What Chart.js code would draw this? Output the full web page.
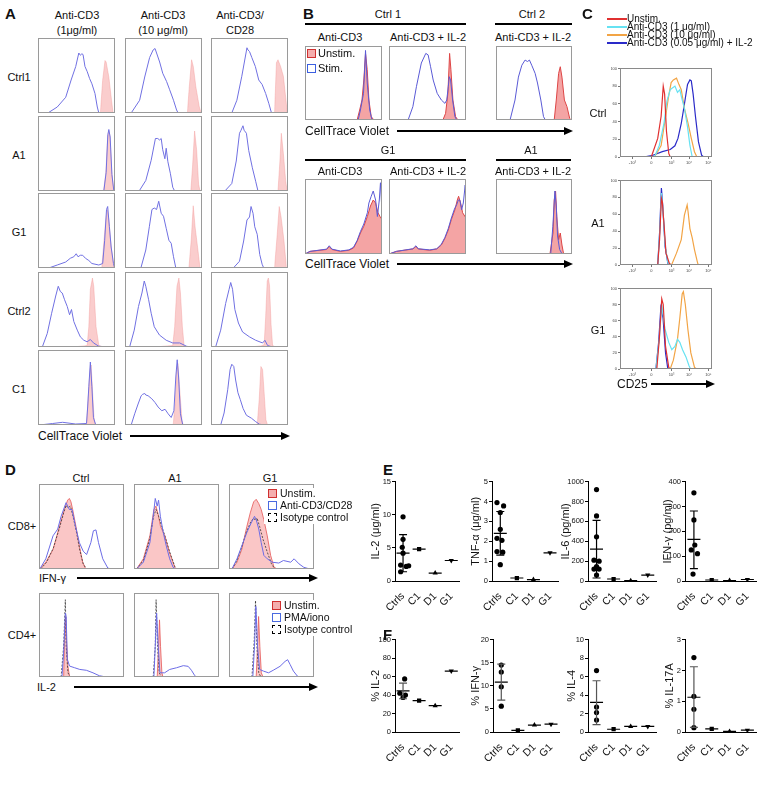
<!DOCTYPE html>
<html>
<head>
<meta charset="utf-8">
<script src="https://cdn.jsdelivr.net/npm/chart.js@4.4.0/dist/chart.umd.min.js"></script>
<style>
body{margin:0;background:#fff}
#fig{position:relative;width:766px;height:785px;overflow:hidden;font-family:'Liberation Sans',Arial,Helvetica,sans-serif;color:#111;background:#fff}
.t{position:absolute;white-space:nowrap;line-height:1}
.c{transform:translate(-50%,-50%)}
.l{transform:translateY(-50%)}
.b{font-weight:bold}
.hl{position:absolute;height:1.5px;background:#000}
.arr{position:absolute;height:1.5px;background:#000}
.arr::after{content:'';position:absolute;right:-3px;top:-3.5px;border-left:9px solid #000;border-top:4.25px solid transparent;border-bottom:4.25px solid transparent}
.sq{position:absolute;width:7px;height:7px;border:1.5px solid}
.leg{position:absolute;background:#fff}
canvas{position:absolute}
</style>
</head>
<body>
<div id="fig"></div>
<script>
// ---- Panel A: CellTrace Violet histograms (x = 0-100 across box, y = % of box height)
const A_ctrl1_lo_u = [[81,0],[84,44],[87,70],[88.5,68],[92,48],[95.5,17],[97.5,0]];
const A_ctrl1_lo_s = [[12.8,0],[25,8],[36,21],[43,44],[49,62],[53,80],[55,77],[57,79],[58.5,78],[61,62],[64,55],[67,46],[70,39],[74,26],[77,8],[79,0]];
const A_ctrl1_hi_u = [[81,0],[83.5,35],[86.5,71],[88.7,62],[92,35],[96.5,8],[99,0]];
const A_ctrl1_hi_s = [[8,0],[19,17],[25.6,48],[32,74],[36.5,84],[39,86],[41,80],[45,68],[49,53],[54,42],[58,31],[63,17],[67,4],[69,0]];
const A_ctrl1_28_u = [[82.5,0],[85,67],[87,71],[90.4,62],[94,49],[97.4,17],[99,0]];
const A_ctrl1_28_s = [[27,0],[33.6,17],[40,49],[46.7,87],[48,84],[50,82],[53,74],[57.6,62],[62,44],[66.4,38],[71,26],[75,13],[78.6,0]];
const A_a1_lo_u = [[85,0],[88,23],[90.5,73],[92,80],[93.5,73],[96,23],[98.5,0]];
const A_a1_lo_s = [[85.5,0],[88.5,25],[90.7,75],[92,82],[93.7,72],[96,22],[98.5,0]];
const A_a1_hi_u = [[85.5,0],[87.7,32],[90.4,80],[93,55],[95.6,9],[97.4,0]];
const A_a1_hi_s = [[18.4,0],[27,14],[34,41],[39.5,70],[42.5,70],[45,68],[47,70],[49,55],[51.8,43],[53.5,57],[55.7,39],[59,23],[62,5],[64.5,0]];
const A_a1_28_u = [[87,0],[89.5,40],[91.3,77],[94,50],[97,13],[99,0]];
const A_a1_28_s = [[18,0],[27,10],[32.8,40],[37,77],[39,81],[41.5,87],[43,81],[46,77],[49,54],[53.7,31],[58,13],[61,0]];
const A_g1_lo_u = [[82.8,0],[85,28],[88,64],[90,78],[92,64],[95,28],[98.7,0]];
const A_g1_lo_s = [[14,0],[25,4],[36,8],[42,13],[46.5,15],[49.6,19],[52,15],[55,17],[58,17],[61.6,13],[66,10],[70,6],[79,4],[84,6],[86.6,37],[89,78],[90.5,82],[92.7,55],[95,28],[98,6],[99.5,0]];
const A_g1_hi_u = [[83,0],[86,37],[88.6,83],[91,55],[94.7,24],[97.4,0]];
const A_g1_hi_s = [[20.6,0],[27,24],[31.6,55],[35,78],[38,80],[41,78],[43.8,89],[47,73],[50,69],[53.5,53],[57,37],[60,33],[63,15],[66,0]];
const A_g1_28_u = [[82.5,0],[86,45],[88.6,82],[91,68],[94.8,36],[98,0]];
const A_g1_28_s = [[29,0],[37,9],[42.4,36],[46.7,64],[50,68],[52,82],[54.6,73],[56.8,55],[60,45],[63.3,18],[66.4,5],[68.5,0]];
const A_ctrl2_lo_u = [[45,0],[60,1.5],[63.8,2],[66,27],[68,77],[70.7,92],[72.4,81],[75.4,27],[79,2],[85,0]];
const A_ctrl2_lo_s = [[5.6,0],[12,18],[17.7,45],[23,68],[26.3,81],[29,74],[31.5,72],[34.5,63],[38,54],[41,43],[43.5,50],[46.5,34],[51,22.5],[55,13.5],[59.5,9],[63.8,7],[68,10],[72,5.5],[79,1],[90,0]];
const A_ctrl2_hi_u = [[40,0],[55,1.5],[62,2],[64.5,27],[67.5,81],[70,92],[72,72],[74.5,27],[76.8,1],[80,0]];
const A_ctrl2_hi_s = [[6,0],[12,22.5],[17.5,54],[22,72],[25,88],[27,81],[30.7,63],[34,45],[38,27],[44.7,16],[53.5,9],[62,5.4],[71,5.4],[80,1],[85,0]];
const A_ctrl2_28_u = [[50,0],[65,1.5],[69,3],[71,40],[73,88],[74.5,92],[76,82],[78,30],[80,2],[84,0]];
const A_ctrl2_28_s = [[6,0],[12.6,22.5],[19,58],[23.5,77],[25.6,86],[28,77],[31,50],[35.6,32],[41,20],[50,13.5],[58,9],[67,5.4],[70,9],[73.5,2],[80,0]];
const A_c1_lo_u = [[63,0],[65,33],[67.5,73],[69,80],[71,42],[73,6],[75,0]];
const A_c1_lo_s = [[2,0],[19,2],[32,3.6],[49,1.3],[63,2],[64.5,24],[66,51],[68,84],[70,51],[72,10],[75,0]];
const A_c1_hi_u = [[62.6,0],[65,28],[67,73],[68.7,82],[70.8,51],[74,6],[75.6,0]];
const A_c1_hi_s = [[8,0],[12.6,15],[17,28],[21,39],[23,41],[25.7,42],[27,40],[30,39],[34.8,35],[39,30],[43,24],[47.8,19],[52,21],[56,15],[60,10],[63.5,19],[66,64],[67.8,87],[69.6,64],[72,15],[75,0]];
const A_c1_28_u = [[60,0],[62.6,34],[64.8,78],[67,74],[69,43],[71.3,7],[73.5,0]];
const A_c1_28_s = [[12.6,0],[17,16],[21.7,47],[24.8,74],[27,81],[29.6,78],[32,60],[35,43],[38,34],[41.7,22],[46,13],[52.6,9],[58,4.5],[63,1],[70,0]];

// ---- Panel B
const B_ctrl1_cd3_u = [[67.7,0],[71,13.5],[74,27],[76.4,54],[78.6,90],[80.8,68],[83,27],[86,4.5],[89.5,0]];
const B_ctrl1_cd3_s = [[69,0],[72,13.5],[76,36],[78.6,94],[80.8,50],[84,13.5],[87,0]];
const B_ctrl1_il2_u = [[70,0],[73.5,9],[76.5,36],[78.7,90],[80.4,68],[83,27],[86.5,4.5],[89.5,0]];
const B_ctrl1_il2_s = [[24.8,0],[31,18],[35.6,45],[42,77],[47.8,90],[50.8,88],[54,72],[57.4,54],[62.6,36],[68,27],[72.6,22.5],[75,27],[77,45],[78.3,58.5],[80,54],[82.6,27],[85.6,4.5],[88,0]];
const B_ctrl2_il2_u = [[76.6,0],[79.3,27],[82.4,63],[84.6,72],[86.8,58],[90,27],[93.4,18],[97,2],[99,0]];
const B_ctrl2_il2_s = [[18.5,0],[25,27],[29.5,58],[34,74],[38.3,81],[41.4,79],[44,81],[47,74],[51.5,63],[54.6,50],[59,27],[62.5,4.5],[65,0]];
const B_g1_cd3_u = [[0,0],[6.5,3.5],[28,6],[31.5,10],[35,6],[46,3.5],[57,5],[63,8],[67.7,17],[72,28],[76.4,37],[81,50],[85,64],[88.6,72],[91.7,68],[94.8,55],[97.4,50],[100,46]];
const B_g1_cd3_s = [[0,0],[6.5,3.5],[28,6.5],[31.5,11],[35,6.5],[46,4],[57,5.5],[63,9],[67.7,18],[72,30],[76.4,40],[81,55],[83,68],[86,77],[88.6,84],[91.7,72],[94,50],[96.5,72],[98,95],[99.6,64]];
const B_g1_il2_u = [[0,0],[9.6,3.5],[31,6.7],[35,10],[38,6.7],[53,5],[62,6.7],[68,12],[72.6,21],[77,32],[81,46],[85.6,59],[88.7,72],[90.4,77],[93,68],[95.6,55],[98.7,50],[100,48]];
const B_g1_il2_s = [[0,0],[9.6,3.5],[31,7],[35,11],[38,7],[53,5.5],[62,7],[68,13],[72.6,22],[77,34],[81,48],[85,60],[88,66],[90,72],[92,72],[94.3,59],[96.5,68],[99,92],[100,60]];
const B_a1_il2_u = [[71,0],[75,28],[76.6,72],[78.4,84],[80,50],[82.4,19],[84.6,28],[86.8,12],[89,0]];
const B_a1_il2_s = [[72,0],[74.8,37],[77.5,84],[79.3,64],[81,24],[83.7,6],[87,0]];

// ---- Panel C: CD25 (x = position across plot, y = % of max)
const cXTicks = [13.5, 34, 56, 75, 96];
const cXLabels = ['-10³', '0', '10³', '10⁴', '10⁵'];
const C_ctrl_unstim = [[34,0],[41,21],[44.7,46],[47,80],[48.5,71],[50.5,29],[53,4],[54.6,0]];
const C_ctrl_cd3lo = [[37.5,0],[42.7,13],[47.8,38],[51,63],[54.6,76],[57,78],[59.7,80],[62.5,73],[65,76],[67,67],[70,55],[73.4,34],[76,13],[78.5,0]];
const C_ctrl_cd3hi = [[37.5,0],[44.7,13],[49,42],[52.6,67],[55.6,84],[58,87],[61.4,89],[64,82],[66.6,76],[70,55],[74,38],[77.5,21],[80.9,6],[83.6,0]];
const C_ctrl_il2 = [[25.6,0],[35.8,2],[46,6],[54.6,8.4],[59.7,12.6],[63,21],[66.6,38],[69.3,55],[71.7,71],[73.4,82],[76,87],[77.5,86],[79.5,71],[82,46],[85.3,17],[88.7,2],[91,0]];
const C_a1_unstim = [[41,0],[43,30],[45,79],[46,75],[48.5,38],[50,14],[53.6,2],[55.6,0]];
const C_a1_cd3lo = [[41,0],[43.3,40],[45,85],[46.4,70],[49,24],[52,3],[54,0]];
const C_a1_cd3hi = [[56,0],[61.4,14],[66.6,30],[70,59],[73,71],[74,63],[76,43],[78.5,32],[81,18],[84,4],[85,0]];
const C_a1_il2 = [[41,0],[43,38],[45,91],[46.4,71],[49,22],[52,2],[54,0]];
const C_g1_unstim = [[40,0],[42.7,37],[45.4,87],[47,80],[49.5,28],[53,2],[54.6,0]];
const C_g1_cd3lo = [[39,0],[42.7,37],[45.4,80],[48.8,50],[53,33],[56.3,24],[59.7,28],[62.5,37],[65,33],[68,24],[71.7,15],[75,4],[76.8,0]];
const C_g1_cd3hi = [[54.6,0],[58,11],[62.5,37],[65,63],[67.6,93],[68.9,96],[71,80],[73.7,50],[77,20],[81,2],[83.6,0]];
const C_g1_il2 = [[39,0],[42,33],[44.4,76],[46.8,63],[49.5,20],[52,0]];

// ---- Panel D: IFN-γ (CD8+) and IL-2 (CD4+)
const D_cd8_ctrl_u = [[1,0],[8,8],[16.5,23],[24,50],[29.8,70],[33.7,81],[35.7,83],[37.6,79],[39.6,70],[43.5,50],[47.5,27],[51.4,8],[55,0]];
const D_cd8_ctrl_i = [[2,0],[9,8],[17,25],[24,48],[29,66],[32,75],[34,72],[37,74],[40,62],[44,44],[48,22],[52,6],[56,0]];
const D_cd8_ctrl_s = [[1,0],[8,12],[16.5,39],[22,47],[26,62],[31.8,78],[35.7,70],[38.8,70],[43,50],[47.5,31],[52,21],[56,17],[61,31],[64,45],[67,46],[70,31],[75,12],[81,1],[86,0]];
const D_cd8_a1_u = [[3,0],[11,12],[18.7,39],[23.4,70],[25.8,74],[28.5,64],[31.2,50],[36.3,39],[42,19],[48,2],[50,0]];
const D_cd8_a1_i = [[3,0],[11,10],[18.7,36],[23,62],[26,70],[29,62],[32,52],[36,40],[42,20],[48,3],[51,0]];
const D_cd8_a1_s = [[3,0],[11,8],[18.7,31],[22.6,62],[25,83],[27.3,74],[28.9,81],[31,62],[34.4,43],[38,27],[42,12],[46,2],[49,0]];
const D_cd8_g1_u = [[3.5,0],[9.4,8],[15,23],[21,50],[25,66],[29,79],[32,82],[35,77],[37.9,70],[41,58],[45,39],[49,16],[53,2],[54,0]];
const D_cd8_g1_i = [[3.5,0],[9.4,10],[15,26],[21,45],[26,56],[29,60],[31,57],[33,60],[36,50],[40,35],[45,20],[50,6],[54,0]];
const D_cd8_g1_s = [[3.5,0],[9.4,12],[15,27],[21,43],[26,54],[30,62],[32,58],[35,47],[37.9,31],[41,16],[45,12],[50.8,8],[58.6,7],[64,10],[72.6,8],[76.6,12],[82.4,6],[88,2],[95,0]];
const D_cd4_ctrl_u = [[29,0],[30,40],[31.4,72],[32.5,40],[34,13],[36,0]];
const D_cd4_ctrl_i = [[26,0],[29,36.5],[31,92],[32,36.5],[34,5],[37,0]];
const D_cd4_ctrl_s = [[27,0],[29,28.6],[31,76],[32,72],[33.3,21],[36,13],[42,11],[48,9],[55.7,8],[63.5,5],[71,1.5],[79,0]];
const D_cd4_a1_u = [[27.3,0],[28.9,36.5],[30,68],[31.2,36.5],[32.8,5],[34,0]];
const D_cd4_a1_i = [[22.6,0],[25,36.5],[26,92],[27.7,36.5],[29.7,5],[32.4,0]];
const D_cd4_a1_s = [[23.4,0],[25,36.5],[26.6,76],[28.5,36.5],[30.5,5],[36,5],[42,9],[50,11],[58,13.5],[63.7,12.7],[67.6,8],[71.5,1.6],[73.4,0]];
const D_cd4_g1_u = [[32,0],[33.6,36.5],[34.8,72],[36.3,36.5],[38,5],[40,0]];
const D_cd4_g1_i = [[27,0],[29.7,44],[31.2,91],[32.8,36.5],[35,5],[37.5,0]];
const D_cd4_g1_s = [[28,0],[30,36.5],[31.6,84],[33.6,36.5],[36,9],[40.6,7],[46.5,5],[52,8],[60,12.7],[66,18.6],[69,20.6],[72,14.7],[75.8,7],[80.5,1],[83.6,0]];

// ---- Panels E / F: dot plots (Ctrls points, then C1, D1, G1 single values)
const groups = ['Ctrls', 'C1', 'D1', 'G1'];
const eIl2 = [9.7, 6.3, 5.1, 4.2, 2.4, 2.2, 2.3, 1.4];
const eIl2Jit = [0, 0, -0.05, 0, -0.15, 0.2, 0.35, -0.15];
const eIl2Pts = [4.8, 1.2, 3.1];
const eIl2Sd = [4.2, 1.4, 7.0];        // mean, lower, upper
const eTnf = [3.95, 3.78, 3.45, 2.6, 2.15, 2.05, 1.48, 1.45, 0.82];
const eTnfJit = [-0.2, 0.2, 0, 0, -0.2, 0.1, -0.2, 0.15, 0];
const eTnfPts = [0.15, 0.07, 1.42];
const eTnfSd = [2.4, 1.3, 3.5];
const eIl6 = [921, 655, 445, 210, 200, 145, 120, 120, 60];
const eIl6Jit = [0, 0, 0, -0.15, 0.15, 0, -0.15, 0.15, 0];
const eIl6Pts = [20, 3, 60];
const eIl6Sd = [320, 30, 610];
const eIfn = [355, 246, 145, 125, 110, 28];
const eIfnJit = [0, 0, 0.05, -0.15, 0.2, -0.05];
const eIfnPts = [4, 2, 6];
const eIfnSd = [168, 50, 282];
const fIl2 = [57.5, 42, 40, 37.5];
const fIl2Jit = [0.1, -0.2, 0.15, 0];
const fIl2Pts = [34, 28.5, 66];
const fIl2Sd = [44.5, 36, 53];
const fIfn = [14.5, 13, 9.8, 5.6];
const fIfnPts = [0.35, 1.5, 1.7];
const fIfnSd = [10.8, 6.9, 14.7];
const fIl4 = [6.65, 2.7, 2.1, 1.3];
const fIl4Pts = [0.3, 0.6, 0.6];
const fIl4Sd = [3.2, 0.8, 5.55];
const fIl17 = [2.42, 1.16, 0.74, 0.14];
const fIl17Pts = [0.1, 0.02, 0.06];
const fIl17Sd = [1.13, 0.15, 2.12];
const noJit = [0, 0, 0, 0];

const fig = document.getElementById('fig');
Chart.defaults.font.family = "'Liberation Sans', Arial, sans-serif";
Chart.defaults.color = '#111';
Chart.defaults.animation = false;

Chart.register({
  id: 'frame',
  afterDraw(chart, args, opts) {
    if (!opts || !opts.color) return;
    const {ctx, chartArea: a} = chart;
    ctx.save();
    ctx.strokeStyle = opts.color;
    ctx.lineWidth = 1;
    ctx.strokeRect(Math.round(a.left) + 0.5, Math.round(a.top) + 0.5, Math.round(a.right - a.left) - 1, Math.round(a.bottom - a.top) - 1);
    ctx.restore();
  }
});

Chart.register({
  id: 'errbars',
  afterDatasetsDraw(chart, args, opts) {
    if (!opts || !opts.sd) return;
    const {ctx, scales: {x, y}} = chart;
    const px = x.getPixelForValue(0);
    const p1 = y.getPixelForValue(opts.sd[1]);
    const p2 = y.getPixelForValue(opts.sd[2]);
    ctx.save();
    ctx.strokeStyle = opts.color;
    ctx.lineWidth = 1.2;
    ctx.beginPath();
    ctx.moveTo(px, p1); ctx.lineTo(px, p2);
    ctx.moveTo(px - 4, p1); ctx.lineTo(px + 4, p1);
    ctx.moveTo(px - 4, p2); ctx.lineTo(px + 4, p2);
    ctx.stroke();
    ctx.restore();
  }
});

function T(s, x, y, cls, size, extra) {
  const d = document.createElement('div');
  d.className = 't ' + (cls || 'c');
  d.style.cssText = 'left:' + x + 'px;top:' + y + 'px;font-size:' + (size || 11) + 'px;' + (extra || '');
  d.textContent = s;
  fig.appendChild(d);
}
function box(cls, x, y, w, extra) {
  const d = document.createElement('div');
  d.className = cls;
  d.style.cssText = 'left:' + x + 'px;top:' + y + 'px;width:' + w + 'px;' + (extra || '');
  fig.appendChild(d);
}
function addCanvas(x, y, w, h) {
  const c = document.createElement('canvas');
  c.width = w; c.height = h;
  c.style.cssText = 'left:' + x + 'px;top:' + y + 'px;width:' + w + 'px;height:' + h + 'px';
  fig.appendChild(c);
  return c;
}
const toXY = arr => arr.map(p => ({x: p[0], y: p[1]}));

const ST = {
  aU: {borderColor: 'rgba(240,140,140,0.6)', backgroundColor: 'rgba(247,172,172,0.6)', borderWidth: 0.6, fill: 'origin', order: 2},
  aS: {borderColor: '#7070e2', borderWidth: 1, fill: false, order: 0},
  bU: {borderColor: '#dd4545', backgroundColor: 'rgba(240,125,125,0.7)', borderWidth: 1, fill: 'origin', order: 2},
  bS: {borderColor: '#5a5ad6', borderWidth: 1, fill: false, order: 0},
  dU: {borderColor: 'rgba(230,95,95,0.85)', backgroundColor: 'rgba(246,160,160,0.6)', borderWidth: 1, fill: 'origin', order: 2},
  dS: {borderColor: '#6c6ce6', borderWidth: 1, fill: false, order: 0},
  dI: {borderColor: '#333', borderWidth: 0.8, borderDash: [2, 1.5], fill: false, order: 1}
};

function hist(x, y, w, h, sets) {
  const c = addCanvas(x, y, w, h);
  new Chart(c, {
    type: 'line',
    data: {datasets: sets.map(s => Object.assign({data: toXY(s[0])}, ST[s[1]]))},
    options: {
      responsive: false,
      layout: {padding: 0},
      elements: {point: {radius: 0}, line: {tension: 0}},
      plugins: {legend: {display: false}, tooltip: {enabled: false}, frame: {color: '#9a9a9a'}},
      scales: {
        x: {type: 'linear', min: 0, max: 100, display: false},
        y: {min: 0, max: 100, display: false}
      }
    }
  });
}

function flowC(top, ph, sets) {
  const yW = 9, padT = 3, padR = 2, xH = 8, pw = 92;
  const c = addCanvas(620 - yW, top - padT, yW + pw + padR, padT + ph + xH);
  const tickGrid = {display: true, drawOnChartArea: false, tickLength: 2, color: '#777'};
  new Chart(c, {
    type: 'line',
    data: {datasets: sets.map(s => ({data: toXY(s[0]), borderColor: s[1], borderWidth: 1.2, fill: false}))},
    options: {
      responsive: false,
      layout: {padding: {top: padT, right: padR, left: 0, bottom: 0}},
      elements: {point: {radius: 0}},
      plugins: {legend: {display: false}, tooltip: {enabled: false}, frame: {color: '#8a8a8a'}},
      scales: {
        x: {
          type: 'linear', min: 0, max: 100,
          afterBuildTicks: s => { s.ticks = cXTicks.map(v => ({value: v})); },
          afterFit: s => { s.height = xH; },
          ticks: {font: {size: 4}, padding: 1, color: '#444', callback: (v, i) => cXLabels[i]},
          grid: tickGrid, border: {display: false}
        },
        y: {
          min: 0, max: 100,
          afterFit: s => { s.width = yW; },
          ticks: {stepSize: 20, font: {size: 4}, padding: 1, color: '#444'},
          grid: tickGrid, border: {display: false}
        }
      }
    }
  });
}

function dot(o) {
  const padT = 5, xH = 30;
  const c = addCanvas(o.left, o.top - padT, o.yW + o.pw + 4, padT + o.ph + xH);
  const mk = (data, style, rot, r) => ({
    data: data, pointStyle: style, pointRotation: rot, pointRadius: r,
    pointBackgroundColor: '#000', pointBorderColor: '#000', pointBorderWidth: 0
  });
  const ds = [
    mk(o.vals.map((v, i) => ({x: o.jit[i], y: v})), 'circle', 0, 2.6),
    mk([{x: 1, y: o.pts[0]}], 'rect', 0, 3),
    mk([{x: 2, y: o.pts[1]}], 'triangle', 0, 3),
    mk([{x: 3, y: o.pts[2]}], 'triangle', 180, 3),
    {data: [{x: 0, y: o.sd[0]}].concat(o.pts.map((v, i) => ({x: i + 1, y: v}))),
     pointStyle: 'line', pointRadius: 6.5, pointBorderColor: '#000', pointBorderWidth: 1.2}
  ];
  new Chart(c, {
    type: 'scatter',
    data: {datasets: ds},
    options: {
      responsive: false,
      layout: {padding: {top: padT, right: 4, left: 0, bottom: 0}},
      plugins: {legend: {display: false}, tooltip: {enabled: false}, errbars: {sd: o.sd, color: o.ec}},
      scales: {
        x: {
          type: 'linear', min: -0.5, max: 3.5,
          afterBuildTicks: s => { s.ticks = [0, 1, 2, 3].map(v => ({value: v})); },
          afterFit: s => { s.height = xH; },
          ticks: {autoSkip: false, minRotation: 45, maxRotation: 45, padding: 1, font: {size: 10.5}, callback: (v, i) => groups[i]},
          grid: {display: false},
          border: {display: true, color: '#000', width: 1}
        },
        y: {
          min: 0, max: o.max,
          afterFit: s => { s.width = o.yW; },
          ticks: {stepSize: o.step, font: {size: 7.5}, padding: 1, callback: v => String(v)},
          grid: {display: true, drawOnChartArea: false, tickLength: 3, color: '#000'},
          border: {display: true, color: '#000', width: 1},
          title: {display: true, text: o.title, font: {size: 11}, padding: 0}
        }
      }
    }
  });
}

// ================= Panel A =================
T('A', 5, 6, 'b', 15);
T('Anti-CD3', 77, 15); T('(1μg/ml)', 77, 30);
T('Anti-CD3', 163, 15); T('(10 μg/ml)', 163, 30);
T('Anti-CD3/', 240, 15); T('CD28', 240, 30);
const aCols = [38, 125, 211];
const aRows = [38, 116, 193, 272, 350];
const aLabels = ['Ctrl1', 'A1', 'G1', 'Ctrl2', 'C1'];
const aSets = [
  [[A_ctrl1_lo_s, A_ctrl1_lo_u], [A_ctrl1_hi_s, A_ctrl1_hi_u], [A_ctrl1_28_s, A_ctrl1_28_u]],
  [[A_a1_lo_s, A_a1_lo_u], [A_a1_hi_s, A_a1_hi_u], [A_a1_28_s, A_a1_28_u]],
  [[A_g1_lo_s, A_g1_lo_u], [A_g1_hi_s, A_g1_hi_u], [A_g1_28_s, A_g1_28_u]],
  [[A_ctrl2_lo_s, A_ctrl2_lo_u], [A_ctrl2_hi_s, A_ctrl2_hi_u], [A_ctrl2_28_s, A_ctrl2_28_u]],
  [[A_c1_lo_s, A_c1_lo_u], [A_c1_hi_s, A_c1_hi_u], [A_c1_28_s, A_c1_28_u]]
];
aRows.forEach((ry, r) => {
  T(aLabels[r], 19, ry + 39);
  aCols.forEach((cx, k) => hist(cx, ry, 77, 75, [[aSets[r][k][0], 'aS'], [aSets[r][k][1], 'aU']]));
});
T('CellTrace Violet', 38, 436, 'l', 12);
box('arr', 130, 435, 157);

// ================= Panel B =================
T('B', 303, 6, 'b', 15);
T('Ctrl 1', 388, 14); box('hl', 305, 23, 161);
T('Ctrl 2', 532, 14); box('hl', 495, 23, 77);
T('Anti-CD3', 340, 37); T('Anti-CD3 + IL-2', 428, 37); T('Anti-CD3 + IL-2', 533, 37);
hist(305, 46, 77, 74, [[B_ctrl1_cd3_s, 'bS'], [B_ctrl1_cd3_u, 'bU']]);
hist(389, 46, 77, 74, [[B_ctrl1_il2_s, 'bS'], [B_ctrl1_il2_u, 'bU']]);
hist(496, 46, 76, 74, [[B_ctrl2_il2_s, 'bS'], [B_ctrl2_il2_u, 'bU']]);
box('sq', 307, 49, 7, 'height:7px;border-color:#d03030;background:rgba(240,140,140,0.7)');
T('Unstim.', 318, 53, 'l', 11);
box('sq', 307, 64, 7, 'height:7px;border-color:#3b5fe0;background:#fff');
T('Stim.', 318, 68, 'l', 11);
T('CellTrace Violet', 305, 131, 'l', 12);
box('arr', 397, 130, 173);
T('G1', 388, 150); box('hl', 305, 159, 161);
T('A1', 531, 150); box('hl', 496, 159, 75);
T('Anti-CD3', 340, 171); T('Anti-CD3 + IL-2', 428, 171); T('Anti-CD3 + IL-2', 533, 171);
hist(305, 179, 77, 75, [[B_g1_cd3_s, 'bS'], [B_g1_cd3_u, 'bU']]);
hist(389, 179, 77, 75, [[B_g1_il2_s, 'bS'], [B_g1_il2_u, 'bU']]);
hist(496, 179, 76, 75, [[B_a1_il2_s, 'bS'], [B_a1_il2_u, 'bU']]);
T('CellTrace Violet', 305, 264, 'l', 12);
box('arr', 397, 263, 173);

// ================= Panel C =================
T('C', 582, 6, 'b', 15);
const cColors = ['#e03030', '#66e2f2', '#f2a445', '#2a2ac8'];
const cLegend = ['Unstim.', 'Anti-CD3 (1 μg/ml)', 'Anti-CD3 (10 μg/ml)', 'Anti-CD3 (0.05 μg/ml) + IL-2'];
cLegend.forEach((s, i) => {
  box('hl', 607, 18 + i * 8, 20, 'height:1.5px;background:' + cColors[i]);
  T(s, 627, 19 + i * 8, 'l', 10);
});
T('Ctrl', 598, 113); T('A1', 598, 223); T('G1', 598, 330);
flowC(68, 89, [[C_ctrl_unstim, cColors[0]], [C_ctrl_cd3lo, cColors[1]], [C_ctrl_cd3hi, cColors[2]], [C_ctrl_il2, cColors[3]]]);
flowC(180, 85, [[C_a1_unstim, cColors[0]], [C_a1_cd3lo, cColors[1]], [C_a1_cd3hi, cColors[2]], [C_a1_il2, cColors[3]]]);
flowC(288, 81, [[C_g1_unstim, cColors[0]], [C_g1_cd3lo, cColors[1]], [C_g1_cd3hi, cColors[2]], [C_g1_il2, cColors[3]]]);
T('CD25', 617, 384, 'l', 12);
box('arr', 651, 383, 61);

// ================= Panel D =================
T('D', 5, 462, 'b', 15);
T('Ctrl', 81, 478); T('A1', 175, 478); T('G1', 270, 478);
const dCols = [39, 134, 229];
const d8 = [[D_cd8_ctrl_s, D_cd8_ctrl_i, D_cd8_ctrl_u], [D_cd8_a1_s, D_cd8_a1_i, D_cd8_a1_u], [D_cd8_g1_s, D_cd8_g1_i, D_cd8_g1_u]];
const d4 = [[D_cd4_ctrl_s, D_cd4_ctrl_i, D_cd4_ctrl_u], [D_cd4_a1_s, D_cd4_a1_i, D_cd4_a1_u], [D_cd4_g1_s, D_cd4_g1_i, D_cd4_g1_u]];
dCols.forEach((cx, k) => {
  hist(cx, 484, 85, 85, [[d8[k][0], 'dS'], [d8[k][1], 'dI'], [d8[k][2], 'dU']]);
  hist(cx, 593, 85, 84, [[d4[k][0], 'dS'], [d4[k][1], 'dI'], [d4[k][2], 'dU']]);
});
T('CD8+', 22, 526); T('CD4+', 22, 635);
function dLegend(x, y, second) {
  box('leg', x - 4, y - 5, 92, 'height:36px');
  box('sq', x, y - 4, 7, 'height:7px;border-color:#d03030;background:rgba(240,140,140,0.7)');
  T('Unstim.', x + 12, y, 'l', 10.5);
  box('sq', x, y + 8, 7, 'height:7px;border-color:#4a6ae0;background:#fff');
  T(second, x + 12, y + 12, 'l', 10.5);
  box('sq', x, y + 20, 7, 'height:7px;border:1.5px dashed #000;background:#fff');
  T('Isotype control', x + 12, y + 24, 'l', 10.5);
}
dLegend(268, 493, 'Anti-CD3/CD28');
dLegend(272, 605, 'PMA/iono');
T('IFN-γ', 39, 578, 'l', 11);
box('arr', 77, 577, 238);
T('IL-2', 37, 687, 'l', 11);
box('arr', 74, 686, 241);

// ================= Panel E / F =================
T('E', 383, 462, 'b', 15);
T('F', 383, 627, 'b', 15);
dot({left: 369, yW: 26, pw: 68, top: 479, ph: 102, max: 15, step: 5, title: 'IL-2 (μg/ml)', vals: eIl2, jit: eIl2Jit, pts: eIl2Pts, sd: eIl2Sd, ec: '#000'});
dot({left: 469, yW: 23, pw: 70, top: 479, ph: 102, max: 5, step: 1, title: 'TNF-α (μg/ml)', vals: eTnf, jit: eTnfJit, pts: eTnfPts, sd: eTnfSd, ec: '#000'});
dot({left: 559, yW: 29, pw: 72, top: 479, ph: 102, max: 1000, step: 200, title: 'IL-6 (pg/ml)', vals: eIl6, jit: eIl6Jit, pts: eIl6Pts, sd: eIl6Sd, ec: '#000'});
dot({left: 661, yW: 24, pw: 75, top: 479, ph: 102, max: 400, step: 100, title: 'IFN-γ (pg/ml)', vals: eIfn, jit: eIfnJit, pts: eIfnPts, sd: eIfnSd, ec: '#000'});
dot({left: 369, yW: 26, pw: 68, top: 637, ph: 95, max: 100, step: 20, title: '% IL-2', vals: fIl2, jit: fIl2Jit, pts: fIl2Pts, sd: fIl2Sd, ec: '#555'});
dot({left: 469, yW: 24, pw: 70, top: 637, ph: 95, max: 20, step: 5, title: '% IFN-γ', vals: fIfn, jit: noJit, pts: fIfnPts, sd: fIfnSd, ec: '#555'});
dot({left: 565, yW: 23, pw: 72, top: 637, ph: 95, max: 10, step: 2, title: '% IL-4', vals: fIl4, jit: noJit, pts: fIl4Pts, sd: fIl4Sd, ec: '#555'});
dot({left: 663, yW: 22, pw: 75, top: 637, ph: 95, max: 3, step: 1, title: '% IL-17A', vals: fIl17, jit: noJit, pts: fIl17Pts, sd: fIl17Sd, ec: '#555'});
</script>
</body>
</html>
